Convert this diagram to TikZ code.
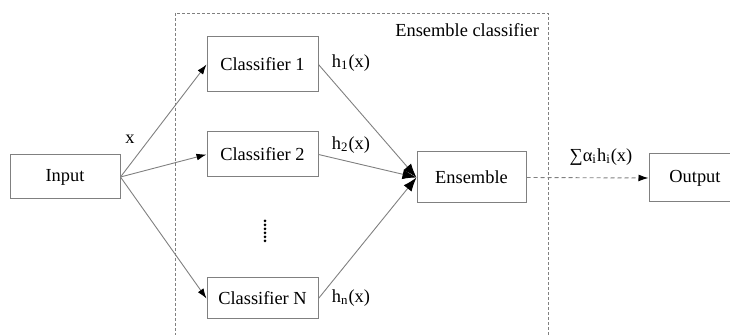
\documentclass[tikz,border=0pt]{standalone}
\usepackage{fontspec}
\setmainfont{Liberation Serif}
\usepackage{tikz}
\usetikzlibrary{arrows.meta}

\tikzset{
	blockbox/.style={draw=gray, line width=0.5pt, inner sep=0pt, minimum width=55.5pt},
	link/.style={draw=gray, line width=0.45pt, -{Latex[color=black,length=5pt,width=3.4pt]}},
	biglink/.style={draw=gray, line width=0.45pt, -{Latex[color=black,length=7pt,width=5pt]}},
}

\begin{document}
\begin{tikzpicture}[x=0.5pt, y=-0.5pt, font=\fontsize{9.2}{10}\selectfont]
				\useasboundingbox (0, 0) rectangle (730, 335);
				\clip (0, 0) rectangle (730, 335);
				% ensemble frame
				\draw[gray, line width=0.45pt, dash pattern=on 1.5pt off 1pt] (175, 13) rectangle (548, 345);
				\node[anchor=east] (frame) at (546, 30) {Ensemble classifier};
				% blocks
				\node[blockbox, minimum width=55pt, minimum height=22pt] (input) at (65, 177) {Input};
				\node[blockbox, minimum height=27.5pt] (clf1) at (262.5, 64.5) {Classifier 1};
				\node[blockbox, minimum height=22.5pt] (clf2) at (262.5, 154.5) {Classifier 2};
				\node[blockbox, minimum height=20.5pt] (clfN) at (262.5, 298.5) {Classifier N};
				\node[blockbox, minimum width=54.5pt, minimum height=25.5pt] (ens) at (471.5, 177.5) {Ensemble};
				\node[blockbox, minimum width=46pt, minimum height=24pt] (output) at (695, 178) {Output};
				% dots between classifiers
				\foreach \y in {221, 225, ..., 241}
					\fill (265, \y) circle (0.75pt);
				% connectors
				\draw[link] (input.east) -- (clf1.west);
				\draw[link] (input.east) -- (clf2.west);
				\draw[link] (input.east) -- (clfN.west);
				\draw[biglink] (clf1.east) -- (ens.west);
				\draw[biglink] (clf2.east) -- (ens.west);
				\draw[biglink] (clfN.east) -- (ens.west);
				\draw[link, dash pattern=on 2pt off 1.5pt] (ens.east) -- (output.west);
				% labels
				\node (lx) at (130, 139) {x};
				\node (lh1) at (351, 63) {h\textsubscript{1}(x)};
				\node (lh2) at (351, 145) {h\textsubscript{2}(x)};
				\node (lhn) at (351, 298) {h\textsubscript{n}(x)};
				\node (lsum) at (601, 157) {∑α\textsubscript{i}h\textsubscript{i}(x)};
			\end{tikzpicture}
\end{document}
